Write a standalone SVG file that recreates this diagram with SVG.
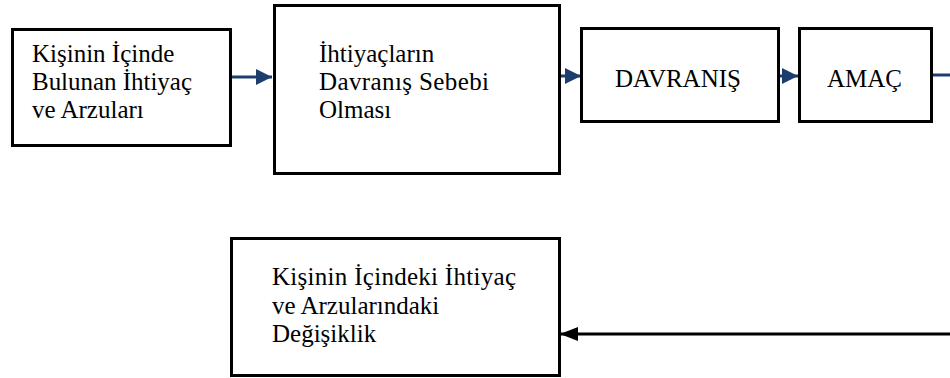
<svg xmlns="http://www.w3.org/2000/svg" width="950" height="378" viewBox="0 0 950 378">
  <style>
    .box { fill: #ffffff; stroke: #000000; stroke-width: 3; }
    .lbl { font-family: "Liberation Serif", "Times New Roman", serif; font-size: 25px; fill: #000000; }
    .flow { stroke: #1c3d6e; stroke-width: 3; fill: none; }
    .back { stroke: #000000; stroke-width: 3; fill: none; }
  </style>
  <defs>
    <marker id="headBlue" markerUnits="userSpaceOnUse" markerWidth="17" markerHeight="16" refX="16" refY="8" orient="auto">
      <path d="M0,0 L16,8 L0,16 Z" fill="#1c3d6e"/>
    </marker>
    <marker id="headBlack" markerUnits="userSpaceOnUse" markerWidth="19" markerHeight="14" refX="18" refY="7" orient="auto">
      <path d="M0,0 L18,7 L0,14 Z" fill="#000000"/>
    </marker>
  </defs>
  <rect width="950" height="378" fill="#ffffff"/>

  <g id="connectors">
    <line class="flow" x1="232" y1="77" x2="272" y2="77" marker-end="url(#headBlue)"/>
    <line class="flow" x1="561" y1="76" x2="581" y2="76" marker-end="url(#headBlue)"/>
    <line class="flow" x1="780" y1="76" x2="798" y2="76" marker-end="url(#headBlue)"/>
    <line class="flow" x1="933" y1="75" x2="950" y2="75"/>
    <line class="back" x1="950" y1="334" x2="560" y2="334" marker-end="url(#headBlack)"/>
  </g>

  <g id="needs">
    <rect class="box" x="12.5" y="29.5" width="218" height="116"/>
    <text class="lbl" x="32" y="62">Kişinin İçinde</text>
    <text class="lbl" x="32" y="90" textLength="160" lengthAdjust="spacing">Bulunan İhtiyaç</text>
    <text class="lbl" x="32" y="118">ve Arzuları</text>
  </g>

  <g id="cause">
    <rect class="box" x="274.5" y="5.5" width="285" height="168"/>
    <text class="lbl" x="319" y="62">İhtiyaçların</text>
    <text class="lbl" x="319" y="90" textLength="170" lengthAdjust="spacing">Davranış Sebebi</text>
    <text class="lbl" x="319" y="118">Olması</text>
  </g>

  <g id="behaviour">
    <rect class="box" x="581.5" y="28.5" width="197" height="93"/>
    <text class="lbl" x="615" y="87">DAVRANIŞ</text>
  </g>

  <g id="goal">
    <rect class="box" x="799.5" y="28.5" width="132" height="93"/>
    <text class="lbl" x="827" y="87">AMAÇ</text>
  </g>

  <g id="change">
    <rect class="box" x="231.5" y="238.5" width="328" height="137"/>
    <text class="lbl" x="272" y="285" textLength="244" lengthAdjust="spacing">Kişinin İçindeki İhtiyaç</text>
    <text class="lbl" x="272" y="314">ve Arzularındaki</text>
    <text class="lbl" x="272" y="342">Değişiklik</text>
  </g>
</svg>
